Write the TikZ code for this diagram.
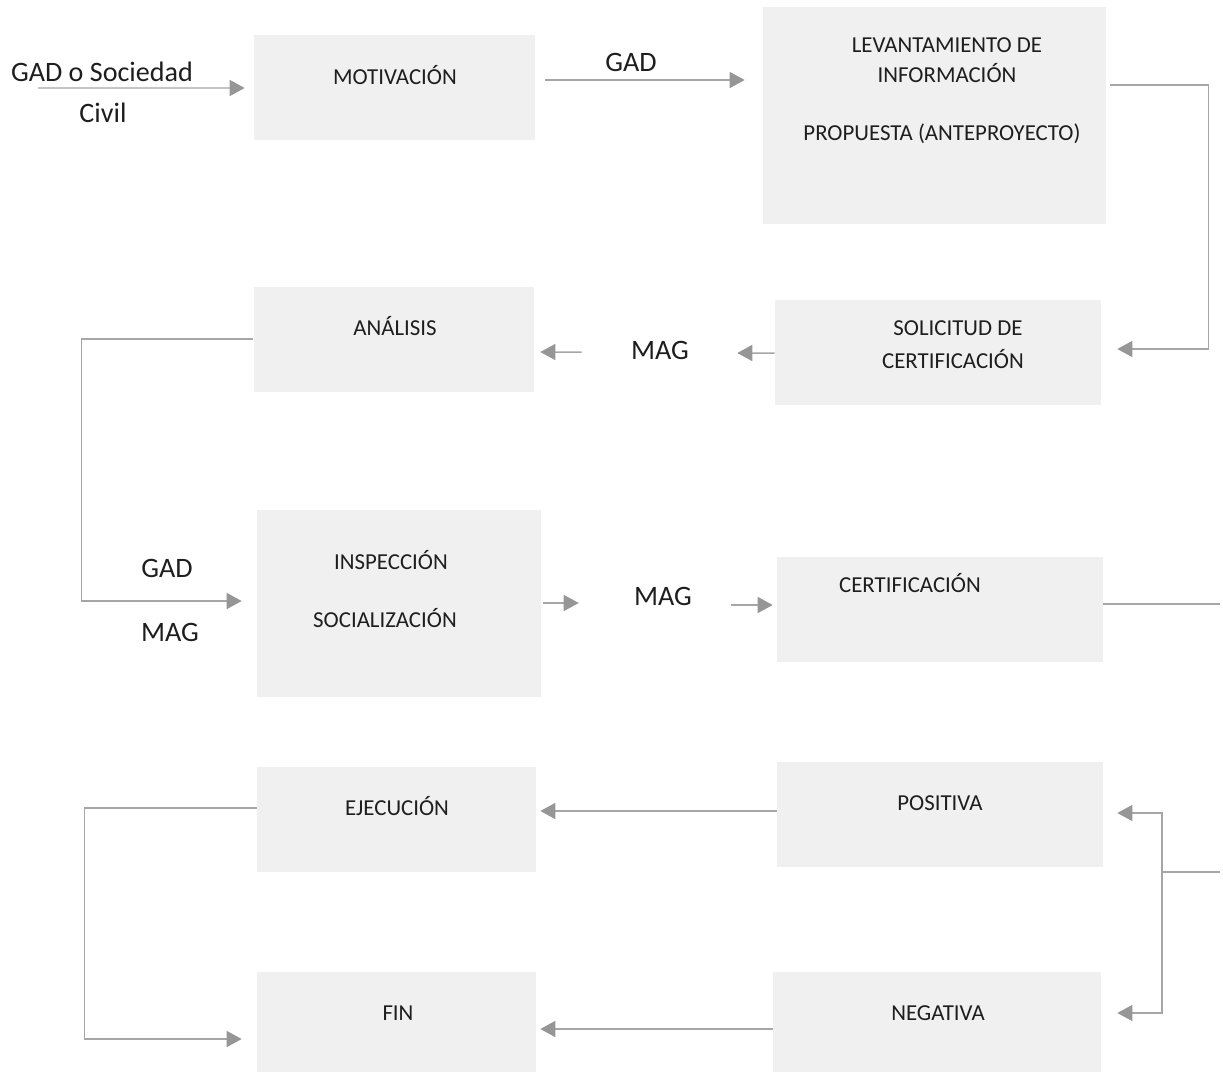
\documentclass[tikz,border=0pt]{standalone}
\usepackage{fontspec}
\setmainfont{Carlito}
\usetikzlibrary{
    arrows.meta,
    positioning,
    calc
}
\definecolor{grisfondo}{RGB}{240,240,240}
\definecolor{grislinea}{RGB}{166,166,166}
\definecolor{grisflecha}{RGB}{150,150,150}
\definecolor{textoosc}{RGB}{30,30,30}
\tikzset{
    caja/.style={
        draw=none,
        fill=grisfondo,
        inner sep=0pt
    },
    txt/.style={
        font=\fontsize{13}{15}\selectfont,
        text=textoosc,
        inner sep=0pt,
        text height=8.4pt,
        text depth=0pt
    },
    etiq/.style={
        font=\fontsize{16}{19}\selectfont,
        text=textoosc,
        inner sep=0pt,
        text height=10.3pt,
        text depth=0pt
    },
    linea/.style={
        draw=grislinea,
        line width=0.85pt
    },
    flecha/.style={
        linea,
        -{Triangle[length=0.3cm, width=0.32cm, color=grisflecha]}
    }
}

\begin{document}
\begin{tikzpicture}[x=0.02cm, y=-0.02cm]
\useasboundingbox (0,0) rectangle (1223,1072);

% cajas
\node[caja, minimum width=5.62cm, minimum height=2.10cm] (mot) at (394.5,87.5) {};
\node[caja, minimum width=6.86cm, minimum height=4.34cm] (lev) at (934.5,115.5) {};
\node[caja, minimum width=6.52cm, minimum height=2.10cm] (sol) at (938,352.5) {};
\node[caja, minimum width=5.60cm, minimum height=2.10cm] (ana) at (394,339.5) {};
\node[caja, minimum width=5.68cm, minimum height=3.74cm] (ins) at (399,603.5) {};
\node[caja, minimum width=6.52cm, minimum height=2.10cm] (cer) at (940,609.5) {};
\node[caja, minimum width=5.58cm, minimum height=2.10cm] (eje) at (396.5,819.5) {};
\node[caja, minimum width=6.52cm, minimum height=2.10cm] (pos) at (940,814.5) {};
\node[caja, minimum width=5.58cm, minimum height=2.00cm] (fin) at (396.5,1022) {};
\node[caja, minimum width=6.56cm, minimum height=2.00cm] (neg) at (937,1022) {};

% textos de las cajas
\node[txt] (t-mot) at (395,77) {MOTIVACIÓN};
\node[txt] (t-lev1) at (947,45) {LEVANTAMIENTO DE};
\node[txt] (t-lev2) at (947,75) {INFORMACIÓN};
\node[txt] (t-lev3) at (942,133) {PROPUESTA (ANTEPROYECTO)};
\node[txt] (t-sol1) at (958,328) {SOLICITUD DE};
\node[txt] (t-sol2) at (953,361) {CERTIFICACIÓN};
\node[txt] (t-ana) at (395,328) {ANÁLISIS};
\node[txt] (t-ins1) at (391,562) {INSPECCIÓN};
\node[txt] (t-ins2) at (385,620) {SOCIALIZACIÓN};
\node[txt] (t-cer) at (910,585) {CERTIFICACIÓN};
\node[txt] (t-eje) at (397,808) {EJECUCIÓN};
\node[txt] (t-pos) at (940,803) {POSITIVA};
\node[txt] (t-fin) at (398,1013) {FIN};
\node[txt] (t-neg) at (938,1013) {NEGATIVA};

% etiquetas
\node[etiq] (gadsoc) at (102,72) {GAD o Sociedad};
\node[etiq] (civil) at (103,113) {Civil};
\node[etiq] (gad1) at (631,62) {GAD};
\node[etiq] (mag1) at (660,350) {MAG};
\node[etiq] (gad2) at (167,568) {GAD};
\node[etiq] (mag2) at (170,632) {MAG};
\node[etiq] (mag3) at (663,596) {MAG};

\coordinate (ini) at (38,88);
\coordinate (salida) at (1220,604);
\coordinate (regreso) at (1220,872);
\coordinate (rama) at (1162,872);

% conectores
\draw[flecha] (ini) -- ($(mot.west)+(-9,0.5)$);
\draw[flecha] ($(mot.east)+(10,-7.5)$) -- ($(lev.west)+(-18,-35.5)$);
\draw[flecha] ($(lev.east)+(4,-30.5)$) -- ++(98,0) |- ($(sol.east)+(16,-3.5)$);
\draw[flecha] ($(sol.west)+(0,0.5)$) -- ($(mag1.east)+(48,3)$);
\draw[flecha] ($(mag1.west)+(-49,2)$) -- ($(ana.east)+(6,12.5)$);
\draw[flecha] ($(ana.west)+(-1,-0.5)$) -- ++(-171,0) |- ($(ins.west)+(-15,-2.5)$);
\draw[flecha] ($(ins.east)+(2,-0.5)$) -- ($(mag3.west)+(-55,7)$);
\draw[flecha] ($(mag3.east)+(39,9)$) -- ($(cer.west)+(-4,-4.5)$);
\draw[linea] ($(cer.east)+(0,-5.5)$) -- (salida);
\draw[linea] (regreso) -- (rama);
\draw[flecha] (rama) |- ($(pos.east)+(14,-1.5)$);
\draw[flecha] (rama) |- ($(neg.east)+(16,-9)$);
\draw[flecha] ($(pos.west)+(0,-3.5)$) -- ($(eje.east)+(4,-8.5)$);
\draw[flecha] ($(neg.west)+(0,7)$) -- ($(fin.east)+(4,7)$);
\draw[flecha] ($(eje.west)+(0,-11.5)$) -- ++(-172,0) |- ($(fin.west)+(-15,17)$);

\end{tikzpicture}
\end{document}
